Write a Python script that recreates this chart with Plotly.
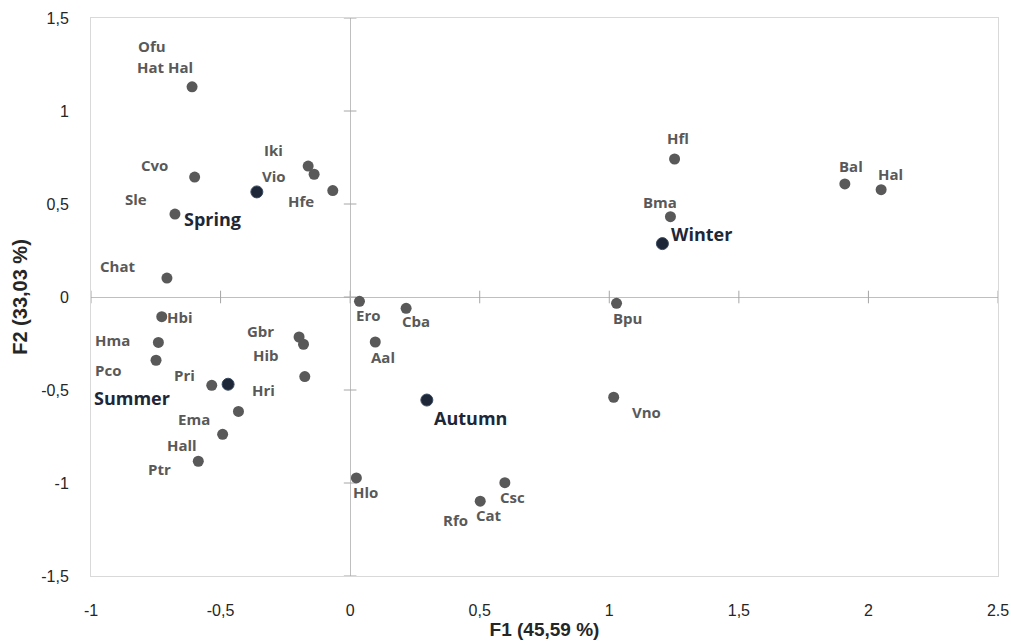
import plotly.graph_objects as go

# ---- data ----
species = ["Ofu/Hat Hal", "Cvo", "Sle", "Iki", "Vio", "Hfe", "Chat", "Hbi", "Hma", "Pco",
           "Pri", "Ema", "Hall", "Ptr", "Gbr", "Hib", "Hri", "Ero", "Cba", "Aal",
           "Hlo", "Csc", "Cat/Rfo", "Hfl", "Bma", "Bal", "Hal", "Bpu", "Vno"]
f1 = [-0.61, -0.60, -0.676, -0.162, -0.139, -0.067, -0.707, -0.727, -0.74, -0.749,
      -0.534, -0.431, -0.492, -0.586, -0.197, -0.18, -0.175, 0.036, 0.216, 0.097,
      0.024, 0.597, 0.502, 1.252, 1.236, 1.909, 2.049, 1.028, 1.017]
f2 = [1.13, 0.645, 0.446, 0.704, 0.66, 0.572, 0.102, -0.106, -0.244, -0.34,
      -0.475, -0.615, -0.738, -0.883, -0.215, -0.254, -0.428, -0.023, -0.061, -0.242,
      -0.973, -0.998, -1.098, 0.742, 0.432, 0.608, 0.577, -0.034, -0.539]

seasons = ["Spring", "Summer", "Autumn", "Winter"]
season_f1 = [-0.36, -0.471, 0.296, 1.205]
season_f2 = [0.565, -0.469, -0.554, 0.287]

x_ticks = [-1, -0.5, 0, 0.5, 1, 1.5, 2, 2.5]
x_ticktext = ["-1", "-0,5", "0", "0,5", "1", "1,5", "2", "2.5"]
y_ticks = [-1.5, -1, -0.5, 0, 0.5, 1, 1.5]
y_ticktext = ["-1,5", "-1", "-0,5", "0", "0,5", "1", "1,5"]

x_title = "F1 (45,59 %)"
y_title = "F2 (33,03 %)"

# ---- label styling: (text, pixel offsets dx, dy) per point ----
species_labels = {
    "Ofu/Hat Hal": [("Ofu", -40, -41), ("Hat Hal", -27, -20)],
    "Cvo": [("Cvo", -40, -12)], "Sle": [("Sle", -39, -15)],
    "Iki": [("Iki", -35, -16)], "Vio": [("Vio", -40, 2)], "Hfe": [("Hfe", -32, 10)],
    "Chat": [("Chat", -49, -12)], "Hbi": [("Hbi", 18, 0)], "Hma": [("Hma", -46, -2)],
    "Pco": [("Pco", -48, 10)], "Pri": [("Pri", -27, -10)], "Ema": [("Ema", -44, 8)],
    "Hall": [("Hall", -41, 11)], "Ptr": [("Ptr", -39, 8)], "Gbr": [("Gbr", -39, -6)],
    "Hib": [("Hib", -38, 11)], "Hri": [("Hri", -41, 13)], "Ero": [("Ero", 9, 14)],
    "Cba": [("Cba", 10, 13)], "Aal": [("Aal", 8, 15)], "Hlo": [("Hlo", 9, 14)],
    "Csc": [("Csc", 8, 14)], "Cat/Rfo": [("Cat", 9, 14), ("Rfo", -25, 19)],
    "Hfl": [("Hfl", 3, -21)], "Bma": [("Bma", -10, -15)], "Bal": [("Bal", 6, -18)],
    "Hal": [("Hal", 9, -16)], "Bpu": [("Bpu", 11, 15)], "Vno": [("Vno", 33, 15)],
}
season_offsets = {"Spring": (-44, 27), "Summer": (-96, 14), "Autumn": (44, 18), "Winter": (39, -10)}

GRAY = "#595959"
NAVY = "#1d2737"
AXIS_GRAY = "#a6a6a6"
LABEL_FONT = dict(family="Open Sans, Liberation Sans, Arial", size=15, color=GRAY, weight="bold")
SEASON_FONT = dict(family="Open Sans, Liberation Sans, Arial", size=18, color=NAVY, weight="bold")

fig = go.Figure()

# small tick crosses on the central axes
fig.add_trace(go.Scatter(x=[0] * len(y_ticks), y=y_ticks, mode="markers",
                         marker=dict(symbol="line-ew-open", size=9, color=AXIS_GRAY,
                                     line=dict(color=AXIS_GRAY, width=1)),
                         hoverinfo="skip", showlegend=False))
fig.add_trace(go.Scatter(x=x_ticks, y=[0] * len(x_ticks), mode="markers",
                         marker=dict(symbol="line-ns-open", size=9, color=AXIS_GRAY,
                                     line=dict(color=AXIS_GRAY, width=1)),
                         hoverinfo="skip", showlegend=False))

fig.add_trace(go.Scatter(x=f1, y=f2, mode="markers", text=species,
                         marker=dict(size=11, color=GRAY), showlegend=False))
fig.add_trace(go.Scatter(x=season_f1, y=season_f2, mode="markers", text=seasons,
                         marker=dict(size=12, color=NAVY, line=dict(color="#3a4a60", width=1)),
                         showlegend=False))

annotations = []
for name, x, y in zip(species, f1, f2):
    for txt, dx, dy in species_labels[name]:
        annotations.append(dict(x=x, y=y, xref="x", yref="y", text=txt, showarrow=False,
                                xshift=dx, yshift=-dy, font=LABEL_FONT, borderpad=0,
                                xanchor="center", yanchor="middle"))
for name, x, y in zip(seasons, season_f1, season_f2):
    dx, dy = season_offsets[name]
    annotations.append(dict(x=x, y=y, xref="x", yref="y", text=name, showarrow=False,
                            xshift=dx, yshift=-dy, font=SEASON_FONT, borderpad=0,
                            xanchor="center", yanchor="middle"))

fig.update_layout(
    width=1011, height=641,
    margin=dict(l=91, r=13, t=18, b=65),
    paper_bgcolor="white", plot_bgcolor="white",
    annotations=annotations,
    xaxis=dict(range=[-1, 2.5], tickvals=x_ticks, ticktext=x_ticktext, automargin=False,
               showgrid=False, zeroline=True, zerolinecolor="#bfbfbf", zerolinewidth=1,
               showline=True, linecolor="#d9d9d9", linewidth=1, mirror=True,
               ticks="", ticklabelstandoff=20,
               tickfont=dict(family="Liberation Sans Narrow, Arial Narrow, Liberation Sans", size=16, color="#262626"),
               title=dict(text=x_title, standoff=4,
                          font=dict(family="Liberation Sans, Arial", size=19,
                                    color="#262626", weight="bold"))),
    yaxis=dict(range=[-1.5, 1.5], tickvals=y_ticks, ticktext=y_ticktext, automargin=False,
               showgrid=False, zeroline=True, zerolinecolor="#bfbfbf", zerolinewidth=1,
               showline=True, linecolor="#d9d9d9", linewidth=1, mirror=True,
               ticks="", ticklabelstandoff=18,
               tickfont=dict(family="Liberation Sans, Arial", size=16, color="#262626"),
               title=dict(text=y_title, standoff=8,
                          font=dict(family="Liberation Sans, Arial", size=20, color="#262626", weight="bold"))),
)

fig.write_html("out.html", config={"displayModeBar": False},
               post_script="document.body.style.margin='0';document.body.style.overflow='hidden';")
